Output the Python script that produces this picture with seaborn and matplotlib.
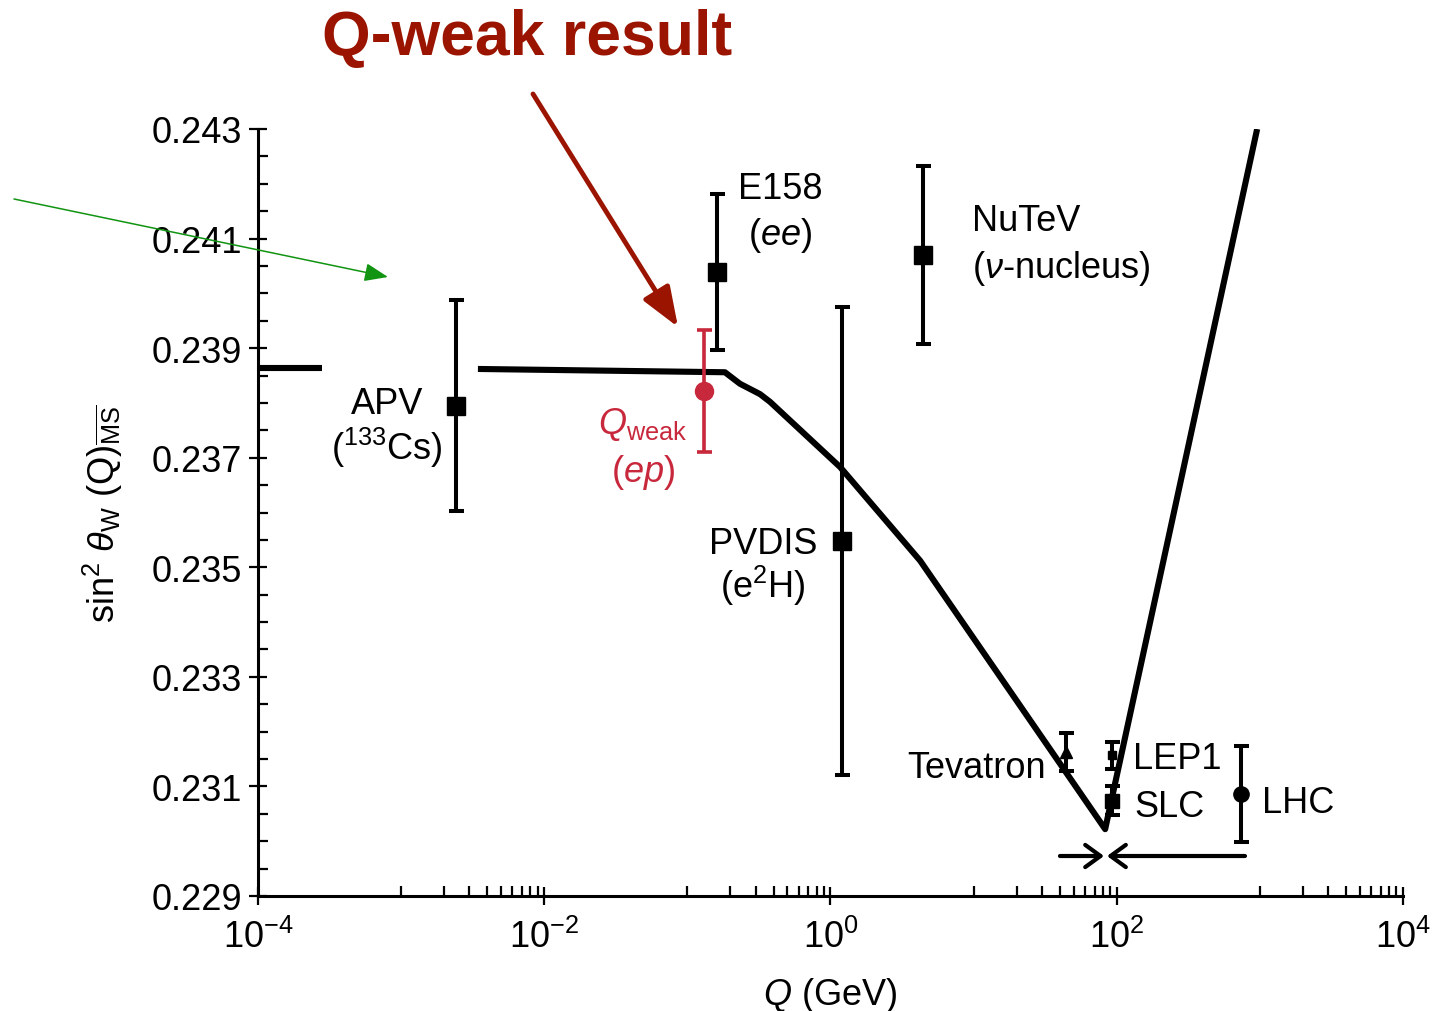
import numpy as np
import pandas as pd
import matplotlib
matplotlib.use("Agg")
import matplotlib.pyplot as plt
import seaborn as sns
from matplotlib.ticker import FixedLocator, FixedFormatter, MultipleLocator, FormatStrFormatter

# ---- measurements of the weak mixing angle ----
experiments = ["APV", "Qweak", "E158", "PVDIS", "NuTeV", "Tevatron", "LEP1", "SLC", "LHC"]
q_gev = [0.00242, 0.131, 0.161, 1.2, 4.4, 44.3, 92.0, 92.0, 740.0]
sin2_value = [0.23795, 0.23822, 0.24039, 0.23548, 0.24070, 0.23163, 0.23157, 0.23074, 0.23086]
sin2_error = [0.00193, 0.00111, 0.00142, 0.00428, 0.00163, 0.00035, 0.00025, 0.00027, 0.00088]

# ---- Standard Model running (two drawn pieces, gap behind the APV label) ----
run_piece = [0, 0, 1, 1, 1, 1, 1, 1, 1, 1, 1]
run_q = [1e-4, 2.8e-4, 3.44e-3, 0.183, 0.233, 0.322, 0.378, 1.167, 4.23, 83.0, 957.0]
run_sin2 = [0.23864, 0.23864, 0.23862, 0.23856, 0.23835, 0.23816, 0.23802,
            0.23683, 0.23512, 0.23022, 0.24300]

# ---- axis ticks ----
x_major = [1e-4, 1e-2, 1e0, 1e2, 1e4]
x_major_labels = [r"$10^{-4}$", r"$10^{-2}$", r"$10^{0}$", r"$10^{2}$", r"$10^{4}$"]
x_minor_decades = [-3, -1, 1, 3]
y_major = [0.229, 0.231, 0.233, 0.235, 0.237, 0.239, 0.241, 0.243]

# ---- marker styles per experiment ----
style = {
    "APV": dict(marker="s", ms=13, color="black"),
    "Qweak": dict(marker="o", ms=13, color="#c8283c"),
    "E158": dict(marker="s", ms=13, color="black"),
    "PVDIS": dict(marker="s", ms=13, color="black"),
    "NuTeV": dict(marker="s", ms=13, color="black"),
    "Tevatron": dict(marker="^", ms=9, color="black"),
    "LEP1": dict(marker="s", ms=6, color="black"),
    "SLC": dict(marker="s", ms=10, color="black"),
    "LHC": dict(marker="o", ms=11, color="black"),
}

sns.set_theme(style="ticks")
plt.rcParams["font.family"] = ["Liberation Sans", "DejaVu Sans"]
plt.rcParams["mathtext.fontset"] = "custom"
plt.rcParams["mathtext.rm"] = "Liberation Sans"
plt.rcParams["mathtext.it"] = "Liberation Sans:italic"
plt.rcParams["mathtext.bf"] = "Liberation Sans:bold"
plt.rcParams["axes.unicode_minus"] = True
plt.rcParams["axes.labelcolor"] = "black"
plt.rcParams["text.color"] = "black"
plt.rcParams["xtick.color"] = "black"
plt.rcParams["ytick.color"] = "black"

FS = 26
fig = plt.figure(figsize=(14.52, 10.12), dpi=100)
ax = fig.add_axes([258 / 1452, (1012 - 897) / 1012, 1145 / 1452, 767 / 1012])
ax.set_facecolor("white")

# running curve
curve = pd.DataFrame({"Q": run_q, "sin2": run_sin2, "piece": run_piece})
sns.lineplot(data=curve, x="Q", y="sin2", units="piece", estimator=None, sort=False,
             color="black", lw=4.4, ax=ax, zorder=3,
             solid_capstyle="butt", solid_joinstyle="round")

# data points with error bars
for name, q, s, e in zip(experiments, q_gev, sin2_value, sin2_error):
    st = style[name]
    ax.errorbar(q, s, yerr=e, fmt=st["marker"], ms=st["ms"], color=st["color"],
                mec=st["color"], mfc=st["color"],
                elinewidth=2.6 if name == "Qweak" else 2.9,
                capsize=5.4, capthick=2.6 if name == "Qweak" else 2.9, zorder=4)

ax.set_xscale("log")
ax.set_xlim(1e-4, 1e4)
ax.set_ylim(0.229, 0.243)

ax.xaxis.set_major_locator(FixedLocator(x_major))
ax.xaxis.set_major_formatter(FixedFormatter(x_major_labels))
minor_x = [k * 10.0 ** d for d in x_minor_decades for k in range(1, 10)]
ax.xaxis.set_minor_locator(FixedLocator(minor_x))
ax.xaxis.set_minor_formatter(FixedFormatter([""] * len(minor_x)))

ax.yaxis.set_major_locator(FixedLocator(y_major))
ax.yaxis.set_major_formatter(FormatStrFormatter("%.3f"))
ax.yaxis.set_minor_locator(MultipleLocator(0.0005))

ax.tick_params(which="major", direction="inout", length=13, width=1.6,
               labelsize=FS, pad=5, color="black", labelcolor="black")
ax.tick_params(which="minor", direction="in", length=7, width=1.6, color="black")
ax.tick_params(axis="x", which="major", pad=10)

for side in ["top", "right"]:
    ax.spines[side].set_visible(False)
for side in ["left", "bottom"]:
    ax.spines[side].set_linewidth(2.2)
    ax.spines[side].set_color("black")
ax.grid(False)

ax.set_xlabel(r"$Q$ (GeV)", fontsize=FS, labelpad=14, color="black")
ax.set_ylabel(r"sin$^2$ $\theta_{\mathrm{W}}$ (Q)$_{\overline{\mathrm{MS}}}$", fontsize=FS,
              labelpad=19, color="black")

# experiment labels
txt = dict(fontsize=FS, color="black", va="baseline")
ax.text(0.4436, 0.24174, "E158", ha="center", **txt)
ax.text(0.4436, 0.24090, r"($\mathit{ee}$)", ha="center", **txt)
ax.text(9.75, 0.24116, "NuTeV", ha="left", **txt)
ax.text(9.75, 0.24030, r"($\nu$-nucleus)", ha="left", **txt)
ax.text(7.96e-4, 0.23782, "APV", ha="center", **txt)
ax.text(7.96e-4, 0.23698, r"($^{133}$Cs)", ha="center", **txt)
ax.text(0.0490, 0.23745, r"$Q_{\mathrm{weak}}$", ha="center", fontsize=FS,
        color="#c8283c", va="baseline")
ax.text(0.0490, 0.23658, r"($\mathit{ep}$)", ha="center", fontsize=FS,
        color="#c8283c", va="baseline")
ax.text(0.3373, 0.23526, "PVDIS", ha="center", **txt)
ax.text(0.3373, 0.23446, r"(e$^2$H)", ha="center", **txt)
ax.text(32.1, 0.23117, "Tevatron", ha="right", **txt)
ax.text(130, 0.23134, "LEP1", ha="left", **txt)
ax.text(132, 0.23046, "SLC", ha="left", **txt)
ax.text(1035, 0.23053, "LHC", ha="left", **txt)

# arrows converging on the Z pole
arrow_y = 0.22973
ax.annotate("", xy=(81.5, arrow_y), xytext=(40.1, arrow_y),
            arrowprops=dict(arrowstyle="->,head_length=0.55,head_width=0.4",
                            mutation_scale=20, lw=3, color="black",
                            shrinkA=0, shrinkB=0), annotation_clip=False)
ax.annotate("", xy=(85.5, arrow_y), xytext=(787, arrow_y),
            arrowprops=dict(arrowstyle="->,head_length=0.55,head_width=0.4",
                            mutation_scale=20, lw=3, color="black",
                            shrinkA=0, shrinkB=0), annotation_clip=False)

# headline and pointer
dark_red = "#9a1400"
fig.text(527 / 1452, (1012 - 55) / 1012, "Q-weak result", ha="center", va="baseline",
         fontsize=45, fontweight="bold", color=dark_red)
fig.add_artist(matplotlib.patches.FancyArrowPatch(
    (533 / 1452, (1012 - 95) / 1012), (678 / 1452, (1012 - 328) / 1012),
    transform=fig.transFigure, arrowstyle="-|>,head_length=1.1,head_width=0.42",
    mutation_scale=22, lw=3.5, color=dark_red, shrinkA=0, shrinkB=0))

# thin green pointer
fig.add_artist(matplotlib.patches.FancyArrowPatch(
    (14 / 1452, (1012 - 200) / 1012), (388 / 1452, (1012 - 278) / 1012),
    transform=fig.transFigure, arrowstyle="-|>,head_length=0.9,head_width=0.35",
    mutation_scale=16, lw=1.1, color="#119411", shrinkA=0, shrinkB=0))

fig.savefig("out.png", dpi=100, facecolor="white")
